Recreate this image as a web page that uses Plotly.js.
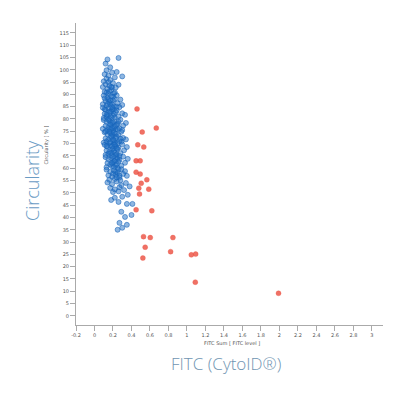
<!DOCTYPE html>
<html>
<head>
<meta charset="utf-8">
<script src="https://cdn.plot.ly/plotly-3.0.1.min.js"></script>
<style>html,body{margin:0;padding:0;background:#fff;}#chart{width:414px;height:393px;}</style>
</head>
<body>
<div id="chart"></div>
<script>
// Blue population (FITC sum, circularity %)
const blueX = [0.14,0.26,0.12,0.17,0.13,
0.11,0.15,0.19,0.13,0.17,0.22,0.10,0.24,0.30,
0.12,0.16,0.20,0.14,0.18,0.23,0.11,0.21,0.15,0.26,0.09,0.19,0.13,
0.10,0.14,0.18,0.22,0.12,0.16,0.20,0.25,0.09,0.13,0.17,0.21,0.28,0.15,0.19,0.11,0.24,0.30,
0.09,0.12,0.15,0.18,0.21,0.24,0.27,0.11,0.14,0.17,0.20,0.23,0.26,0.30,0.10,0.13,0.16,0.19,0.22,0.33,
0.10,0.13,0.16,0.19,0.22,0.25,0.28,0.12,0.15,0.18,0.21,0.24,0.27,0.31,0.09,0.14,0.17,0.20,0.23,0.26,0.30,0.34,
0.11,0.14,0.17,0.20,0.23,0.26,0.29,0.12,0.15,0.18,0.21,0.24,0.27,0.31,0.10,0.13,0.16,0.19,0.22,0.25,0.34,0.29,
0.11,0.14,0.17,0.20,0.23,0.26,0.30,0.13,0.16,0.19,0.22,0.25,0.28,0.32,0.12,0.15,0.18,0.24,0.35,0.21,
0.12,0.15,0.18,0.21,0.24,0.27,0.31,0.14,0.17,0.20,0.23,0.26,0.29,0.33,0.13,0.19,0.25,0.36,
0.13,0.17,0.21,0.25,0.29,0.33,0.15,0.19,0.23,0.27,0.31,0.35,0.16,0.22,0.28,
0.14,0.19,0.24,0.29,0.34,0.17,0.22,0.27,0.32,0.38,0.20,0.26,
0.36,0.30,0.22,0.35,0.41,0.18,0.26,
0.29,0.33,0.27,0.35,0.25,0.30,0.40,
0.15,0.18,0.16,0.20,0.17,0.14,0.19,0.16,0.21,0.18,0.15,0.20,0.17,0.22,0.19,0.16,0.21,0.18,0.23,0.20,0.17,0.22,0.19,0.24,0.21,0.18,0.23,0.20,0.25,0.22,0.19,0.24,0.21,0.26,0.23,0.20,0.27,0.24,0.13,0.12,0.13,0.11,0.27,0.28,0.25,0.24,0.22];
const blueY = [104.2,104.8,102.5,101.0,99.8,
98.2,97.6,98.9,96.4,95.8,96.9,95.3,99.1,97.3,
94.1,93.5,94.6,92.2,91.7,92.8,91.0,90.4,90.2,93.9,93.0,92.9,90.8,
89.5,88.7,89.2,88.1,87.3,86.8,87.6,86.4,86.0,85.4,85.9,85.2,87.9,88.0,86.1,88.4,89.6,85.7,
84.6,83.8,84.3,83.2,84.0,83.5,84.8,82.1,81.6,82.5,81.3,82.8,81.0,82.3,80.4,80.9,80.2,83.9,80.6,81.7,
79.6,78.8,79.3,78.4,79.1,78.0,79.7,77.2,76.6,77.5,76.3,77.8,76.1,77.3,76.0,75.4,75.9,75.2,75.7,78.9,75.5,78.4,
74.6,73.8,74.3,73.2,74.0,73.5,74.8,72.1,71.6,72.5,71.3,72.8,71.0,72.3,70.4,70.9,70.2,73.9,70.6,70.1,71.7,70.8,
69.5,68.7,69.2,68.1,69.0,68.4,69.7,67.2,66.6,67.5,66.3,67.8,66.1,67.3,65.4,65.9,65.2,65.7,68.6,69.8,
64.5,63.6,64.1,63.0,64.3,63.4,64.7,62.1,61.5,62.4,61.2,62.7,61.0,62.2,60.4,60.8,60.2,63.8,
59.4,58.6,59.0,58.2,59.6,58.8,57.1,56.5,57.4,56.2,57.7,56.9,55.3,55.6,55.1,
54.2,53.5,54.6,53.1,54.0,52.0,51.4,52.3,51.1,52.6,50.3,50.6,
49.2,48.4,48.0,45.5,45.5,47.1,46.3,
42.3,40.2,37.8,37.0,35.0,35.8,41.0,
95.0,93.0,91.2,89.0,87.5,86.2,84.8,83.0,82.0,80.7,79.8,78.6,77.8,77.0,76.4,74.9,74.5,73.0,72.2,71.5,70.6,69.6,68.9,68.0,67.0,66.2,65.3,64.7,63.9,62.9,62.0,61.6,60.5,59.4,58.5,57.8,57.0,56.3,81.8,75.0,69.0,84.0,65.0,72.0,75.8,85.0,90.8];

// Red population
const redX = [0.46,0.516,0.668,0.468,0.533,0.45,0.494,0.45,0.494,0.566,0.505,0.587,0.479,0.487,0.45,0.62,0.53,0.603,0.848,0.548,0.823,0.523,1.047,1.094,1.09,1.99];
const redY = [84.1,74.7,76.3,69.5,68.6,63.0,63.0,58.4,57.6,55.3,53.9,51.5,51.9,49.5,43.1,42.7,32.2,31.8,31.8,27.9,26.1,23.5,24.8,25.1,13.7,9.2];

const xTicks = [-0.2,0,0.2,0.4,0.6,0.8,1,1.2,1.4,1.6,1.8,2,2.2,2.4,2.6,2.8,3];
const yTicks = [0,5,10,15,20,25,30,35,40,45,50,55,60,65,70,75,80,85,90,95,100,105,110,115];

const traces = [
  {x: blueX, y: blueY, type: 'scatter', mode: 'markers', hoverinfo: 'none',
   marker: {size: 5, color: 'rgba(30,110,195,0.5)', line: {color: 'rgba(25,100,185,0.7)', width: 0.8}}},
  {x: redX, y: redY, type: 'scatter', mode: 'markers', hoverinfo: 'none',
   marker: {size: 5, color: 'rgba(235,78,62,0.8)', line: {color: 'rgba(235,78,62,0.4)', width: 0.8}}}
];

const tickFont = {family: 'DejaVu Sans, sans-serif', size: 5, color: '#555'};
const layout = {
  width: 414, height: 393,
  margin: {l: 76, r: 31, t: 23, b: 68},
  paper_bgcolor: '#fff', plot_bgcolor: '#fff',
  showlegend: false,
  xaxis: {range: [-0.2, 3.12], tickmode: 'array', tickvals: xTicks, ticktext: xTicks.map(String),
    showgrid: false, zeroline: false, showline: true, linecolor: '#aaa', linewidth: 1,
    ticks: 'outside', ticklen: 5, tickcolor: '#aaa', tickfont: tickFont},
  yaxis: {range: [-3.7, 119], tickmode: 'array', tickvals: yTicks, ticktext: yTicks.map(String),
    showgrid: false, zeroline: false, showline: true, linecolor: '#aaa', linewidth: 1,
    ticks: 'outside', ticklen: 5, tickcolor: '#aaa', tickfont: tickFont},
  annotations: [
    {text: 'Circularity', xref: 'paper', yref: 'paper', x: -0.189, y: 0.48, textangle: -90,
     showarrow: false, font: {family: 'Open Sans, sans-serif', size: 18, weight: 300, color: '#6a9bc4'}},
    {text: 'FITC (CytoID®)', xref: 'paper', yref: 'paper', x: 0.489, y: -0.172,
     showarrow: false, font: {family: 'Open Sans, sans-serif', size: 17, weight: 300, color: '#7095b2'}},
    {text: 'Circularity [ % ]', xref: 'paper', yref: 'paper', x: -0.117, y: 0.596, textangle: -90,
     showarrow: false, font: {family: 'DejaVu Sans, sans-serif', size: 5, color: '#555'}},
    {text: 'FITC Sum [ FITC level ]', xref: 'paper', yref: 'paper', x: 0.508, y: -0.076,
     showarrow: false, font: {family: 'DejaVu Sans, sans-serif', size: 5, color: '#555'}}
  ]
};

Plotly.newPlot('chart', traces, layout, {staticPlot: true, displayModeBar: false});
</script>
</body>
</html>
